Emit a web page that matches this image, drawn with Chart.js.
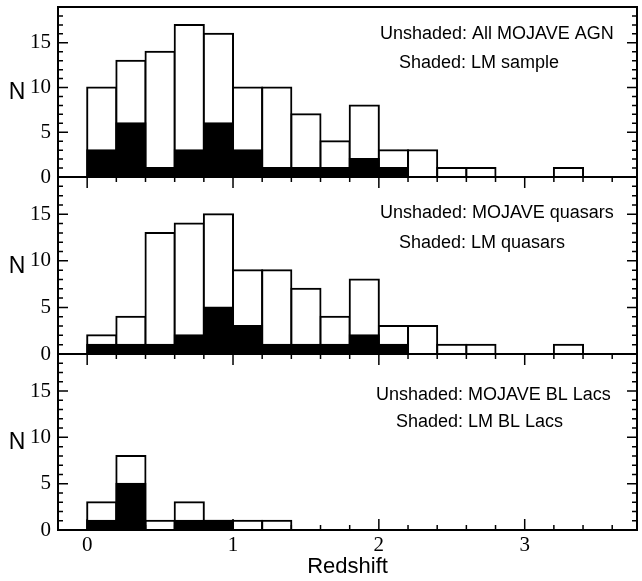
<!DOCTYPE html>
<html>
<head>
<meta charset="utf-8">
<script src="https://cdn.jsdelivr.net/npm/chart.js@4/dist/chart.umd.min.js"></script>
<style>
  html, body { margin: 0; padding: 0; background: #fff; }
  #wrap { position: relative; width: 642px; height: 581px; }
  #wrap canvas { position: absolute; left: 0; top: 0; }
</style>
</head>
<body>
<div id="wrap">
  <canvas id="panelAll" width="642" height="581"></canvas>
  <canvas id="panelQuasars" width="642" height="581"></canvas>
  <canvas id="panelBLLacs" width="642" height="581"></canvas>
</div>
<script>
// redshift bins, 0.2 wide
const binStarts = [0.0, 0.2, 0.4, 0.6, 0.8, 1.0, 1.2, 1.4, 1.6, 1.8, 2.0, 2.2, 2.4, 2.6, 2.8, 3.0, 3.2];
const binWidth = 0.2;

const allAgn        = [10, 13, 14, 17, 16, 10, 10, 7, 4, 8, 3, 3, 1, 1, 0, 0, 1];
const lmSample      = [3, 6, 1, 3, 6, 3, 1, 1, 1, 2, 1, 0, 0, 0, 0, 0, 0];
const mojaveQuasars = [2, 4, 13, 14, 15, 9, 9, 7, 4, 8, 3, 3, 1, 1, 0, 0, 1];
const lmQuasars     = [1, 1, 1, 2, 5, 3, 1, 1, 1, 2, 1, 0, 0, 0, 0, 0, 0];
const mojaveBLLacs  = [3, 8, 1, 3, 1, 1, 1, 0, 0, 0, 0, 0, 0, 0, 0, 0, 0];
const lmBLLacs      = [1, 5, 0, 1, 1, 0, 0, 0, 0, 0, 0, 0, 0, 0, 0, 0, 0];

const xTickLabels = [0, 1, 2, 3];
const yTickLabels = [0, 5, 10, 15];
const xMin = -0.2, xMax = 3.77;
const yMin = 0, yMax = 19;

// frame, inward ticks and the text notes
const frameTicks = {
    id: 'frameTicks',
    afterDatasetsDraw(chart, args, opts) {
        const { ctx, chartArea: a, scales: { x, y } } = chart;
        ctx.save();
        ctx.strokeStyle = '#000';
        ctx.lineWidth = 1.5;
        ctx.beginPath();
        for (let i = 0; i <= 18; i++) {
            const px = x.getPixelForValue(i * 0.2);
            const len = i % 5 === 0 ? 11 : 5;
            if (opts.topTicks) {
                ctx.moveTo(px, a.top);
                ctx.lineTo(px, a.top + len);
            }
            if (opts.bottomTicks) {
                ctx.moveTo(px, a.bottom);
                ctx.lineTo(px, a.bottom - len);
            }
        }
        for (let v = yMin + 1; v < yMax; v++) {
            const py = y.getPixelForValue(v);
            const len = v % 5 === 0 ? 10 : 5;
            ctx.moveTo(a.left, py);
            ctx.lineTo(a.left + len, py);
            ctx.moveTo(a.right, py);
            ctx.lineTo(a.right - len, py);
        }
        ctx.stroke();
        ctx.lineWidth = 2;
        ctx.strokeRect(a.left, a.top, a.right - a.left, a.bottom - a.top);

        ctx.fillStyle = '#000';
        ctx.font = '23px "Liberation Sans", Arial, sans-serif';
        ctx.textAlign = 'center';
        ctx.textBaseline = 'middle';
        ctx.fillText('N', 17, (a.top + a.bottom) / 2 + 1);

        ctx.font = '18px "Liberation Sans", Arial, sans-serif';
        ctx.textAlign = 'left';
        opts.notes.forEach(n => {
            ctx.fillText(n.text, n.x, a.top + n.dy);
        });
        ctx.restore();
    }
};

function histData(values) {
    return binStarts.map((b, i) => ({ x: b + binWidth / 2, y: values[i] }));
}

function makePanel(id, unshaded, shaded, notes, lay) {
    const barStyle = {
        borderColor: '#000',
        borderWidth: 2,
        inflateAmount: 1,
        grouped: false,
        categoryPercentage: 1,
        barPercentage: 1
    };
    return new Chart(document.getElementById(id), {
        type: 'bar',
        data: {
            datasets: [
                Object.assign({ label: 'Shaded', data: histData(shaded), backgroundColor: '#000' }, barStyle),
                Object.assign({ label: 'Unshaded', data: histData(unshaded), backgroundColor: '#fff' }, barStyle)
            ]
        },
        options: {
            responsive: false,
            animation: false,
            layout: { padding: { top: lay.top, bottom: lay.bottom, left: 0, right: 5 } },
            plugins: {
                legend: { display: false },
                tooltip: { enabled: false },
                frameTicks: { notes: notes, topTicks: lay.topTicks, bottomTicks: lay.showX }
            },
            scales: {
                x: {
                    type: 'linear',
                    min: xMin,
                    max: xMax,
                    offset: false,
                    grid: { display: false, drawTicks: false },
                    border: { display: false },
                    afterBuildTicks: s => { s.ticks = xTickLabels.map(v => ({ value: v })); },
                    ticks: {
                        display: lay.showX,
                        color: '#000',
                        padding: 3,
                        maxRotation: 0,
                        font: { family: '"Liberation Serif", "Times New Roman", serif', size: 21 }
                    },
                    title: {
                        display: lay.showX,
                        text: 'Redshift',
                        color: '#000',
                        padding: 0,
                        font: { family: '"Liberation Sans", Arial, sans-serif', size: 22 }
                    },
                    afterFit: s => {
                        s.height = lay.xHeight;
                        s.paddingLeft = 0;
                        s.paddingRight = 0;
                    }
                },
                y: {
                    min: yMin,
                    max: yMax,
                    grid: { display: false, drawTicks: false },
                    border: { display: false },
                    afterBuildTicks: s => { s.ticks = yTickLabels.map(v => ({ value: v })); },
                    ticks: {
                        color: '#000',
                        padding: 7,
                        font: { family: '"Liberation Serif", "Times New Roman", serif', size: 21 }
                    },
                    afterFit: s => {
                        s.width = 58;
                        s.paddingTop = 0;
                        s.paddingBottom = 0;
                    }
                }
            }
        },
        plugins: [frameTicks]
    });
}

makePanel('panelAll', allAgn, lmSample, [
    { text: 'Unshaded: All MOJAVE AGN', x: 380, dy: 27 },
    { text: 'Shaded: LM sample', x: 399, dy: 56 }
], { top: 7, bottom: 404, xHeight: 0, showX: false, topTicks: false });

makePanel('panelQuasars', mojaveQuasars, lmQuasars, [
    { text: 'Unshaded: MOJAVE quasars', x: 380, dy: 36 },
    { text: 'Shaded: LM quasars', x: 399, dy: 66 }
], { top: 177, bottom: 227, xHeight: 0, showX: false, topTicks: true });

makePanel('panelBLLacs', mojaveBLLacs, lmBLLacs, [
    { text: 'Unshaded: MOJAVE BL Lacs', x: 376, dy: 41 },
    { text: 'Shaded: LM BL Lacs', x: 396, dy: 68 }
], { top: 354, bottom: 1, xHeight: 50, showX: true, topTicks: true });
</script>
</body>
</html>
